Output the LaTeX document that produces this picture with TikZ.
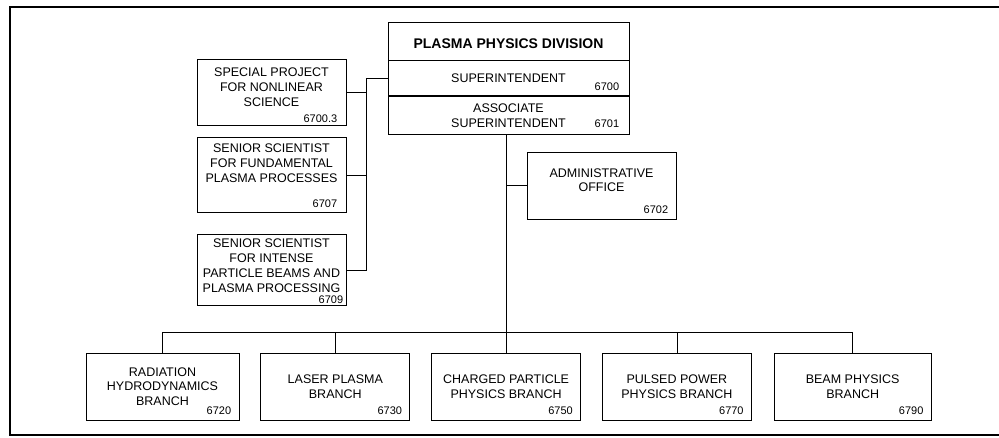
\documentclass[tikz,border=0pt]{standalone}
\usepackage{fontspec}
\setmainfont{Liberation Sans}
\usetikzlibrary{positioning}

\begin{document}
\begin{tikzpicture}[x=1pt, y=-1pt, node distance=21pt,
  unit/.style={rectangle, draw, line width=0.8pt, minimum width=149pt, minimum height=67pt, inner sep=2pt, align=center, font=\fontsize{12.5}{14.7}\selectfont},
  head/.style={unit, minimum width=241pt, minimum height=38pt},
  code/.style={anchor=south east, inner sep=0pt, font=\fontsize{11}{13}\selectfont},
  link/.style={line width=0.8pt}
]
\useasboundingbox (0,0) rectangle (999,437);
\draw[line width=2.4pt] (1010,7) -| (10,435) -- (1010,435);

\node[head, text height=16pt, font=\fontsize{14}{16}\selectfont\bfseries] (ppd) at (508.5,41) {PLASMA PHYSICS DIVISION};
\node[head, below=0pt of ppd, minimum height=35pt] (sup) {SUPERINTENDENT};
\node[head, below=0pt of sup] (aso) {ASSOCIATE\\SUPERINTENDENT};
\node[code] (sup-no) at ([xshift=-10pt,yshift=5pt]sup.south east) {6700};
\node[code] (aso-no) at ([xshift=-10pt,yshift=7pt]aso.south east) {6701};

\node[unit, minimum height=66pt, text depth=10pt] (sp) at (271.5,92) {SPECIAL PROJECT\\FOR NONLINEAR\\SCIENCE};
\node[unit, below=12pt of sp, minimum height=75pt, text depth=24pt] (ssf) {SENIOR SCIENTIST\\FOR FUNDAMENTAL\\PLASMA PROCESSES};
\node[unit, below=of ssf, minimum height=71pt, text depth=9pt] (ssb) {SENIOR SCIENTIST\\FOR INTENSE\\PARTICLE BEAMS AND\\PLASMA PROCESSING};
\node[code] (sp-no) at ([xshift=-9pt,yshift=3pt]sp.south east) {6700.3};
\node[code] (ssf-no) at ([xshift=-9pt,yshift=5pt]ssf.south east) {6707};
\node[code] (ssb-no) at ([xshift=-3pt,yshift=2pt]ssb.south east) {6709};

\node[unit, text depth=11pt] (adm) at (601.5,185.5) {ADMINISTRATIVE\\OFFICE};
\node[code] (adm-no) at ([xshift=-8pt,yshift=6pt]adm.south east) {6702};

\node[unit, minimum width=153pt] (rad) at (162.5,386.5) {RADIATION\\HYDRODYNAMICS\\BRANCH};
\node[unit, right=of rad] (las) {LASER PLASMA\\BRANCH};
\node[unit, right=of las] (cpp) {CHARGED PARTICLE\\PHYSICS BRANCH};
\node[unit, right=of cpp] (ppp) {PULSED POWER\\PHYSICS BRANCH};
\node[unit, right=22pt of ppp, minimum width=157pt] (bpb) {BEAM PHYSICS\\BRANCH};
\foreach \b/\n in {rad/6720, las/6730, cpp/6750, ppp/6770, bpb/6790}
  \node[code] (\b-no) at ([xshift=-8pt,yshift=6pt]\b.south east) {\n};

\coordinate (lbus) at (366,0);
\coordinate (bus) at (0,332);
\draw[link] (sup.west) -- (sup.west -| lbus) |- (ssb.east);
\draw[link] (sp.east) -- (sp.east -| lbus);
\draw[link] (ssf.east) -- (ssf.east -| lbus);
\draw[link] (cpp.north |- aso.south) -- (cpp.north);
\draw[link] (adm.west) -- (adm.west -| cpp.north);
\draw[link] (rad.north) -- (rad.north |- bus) -| (bpb.north);
\foreach \b in {las, ppp}
  \draw[link] (\b.north) -- (\b.north |- bus);
\end{tikzpicture}
\end{document}
